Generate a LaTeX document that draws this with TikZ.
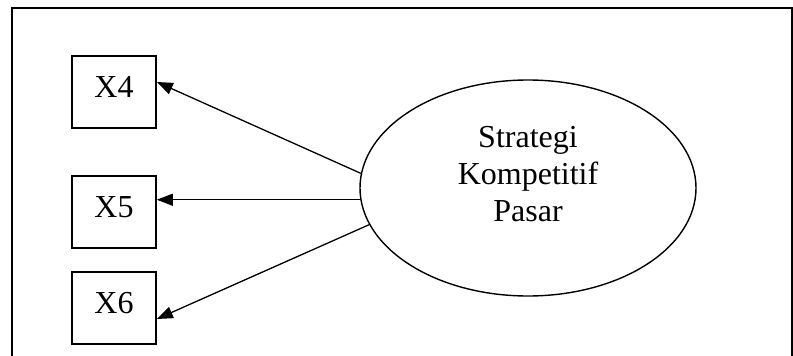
\documentclass[tikz,border=0pt]{standalone}
\usepackage{fontspec}
\setmainfont{Liberation Serif}
\usetikzlibrary{arrows.meta,shapes.geometric}

\tikzset{
  frameline/.style={line width=2.4pt},
  indicator/.style={draw, line width=1.6pt, minimum width=84pt, minimum height=72pt,
    inner sep=0pt, text height=22pt, text depth=11pt, font=\fontsize{32}{37}\selectfont},
  construct/.style={draw, ellipse, line width=1.4pt, minimum width=336pt, minimum height=216pt, inner sep=0pt},
  constructlabel/.style={align=center, inner sep=0pt, font=\fontsize{32}{37}\selectfont},
  loading/.style={line width=1.3pt, -{Triangle[length=16pt,width=12pt]}}
}

\begin{document}
\begin{tikzpicture}[x=1pt,y=-1pt]
  \useasboundingbox (0,0) rectangle (793,356);

  % open frame around the model
  \draw[frameline] (12,356) -- (12,8) -- (792,8) -- (792,356);

  % latent construct
  \node[construct] (e) at (528,188) {};
  \node[constructlabel] (t) at (528,174.5) {Strategi\\Kompetitif\\Pasar};

  % indicators
  \node[indicator] (x4) at (114,92) {X4};
  \node[indicator] (x5) at (114,212) {X5};
  \node[indicator] (x6) at (114,308) {X6};

  % loadings
  \draw[loading] (e.175.6) -- ([yshift=10pt]x4.east);
  \draw[loading] (e.184.1) -- (e.184.1 -| x5.east);
  \draw[loading] (e.193.2) -- ([yshift=-11pt]x6.east);
\end{tikzpicture}
\end{document}
